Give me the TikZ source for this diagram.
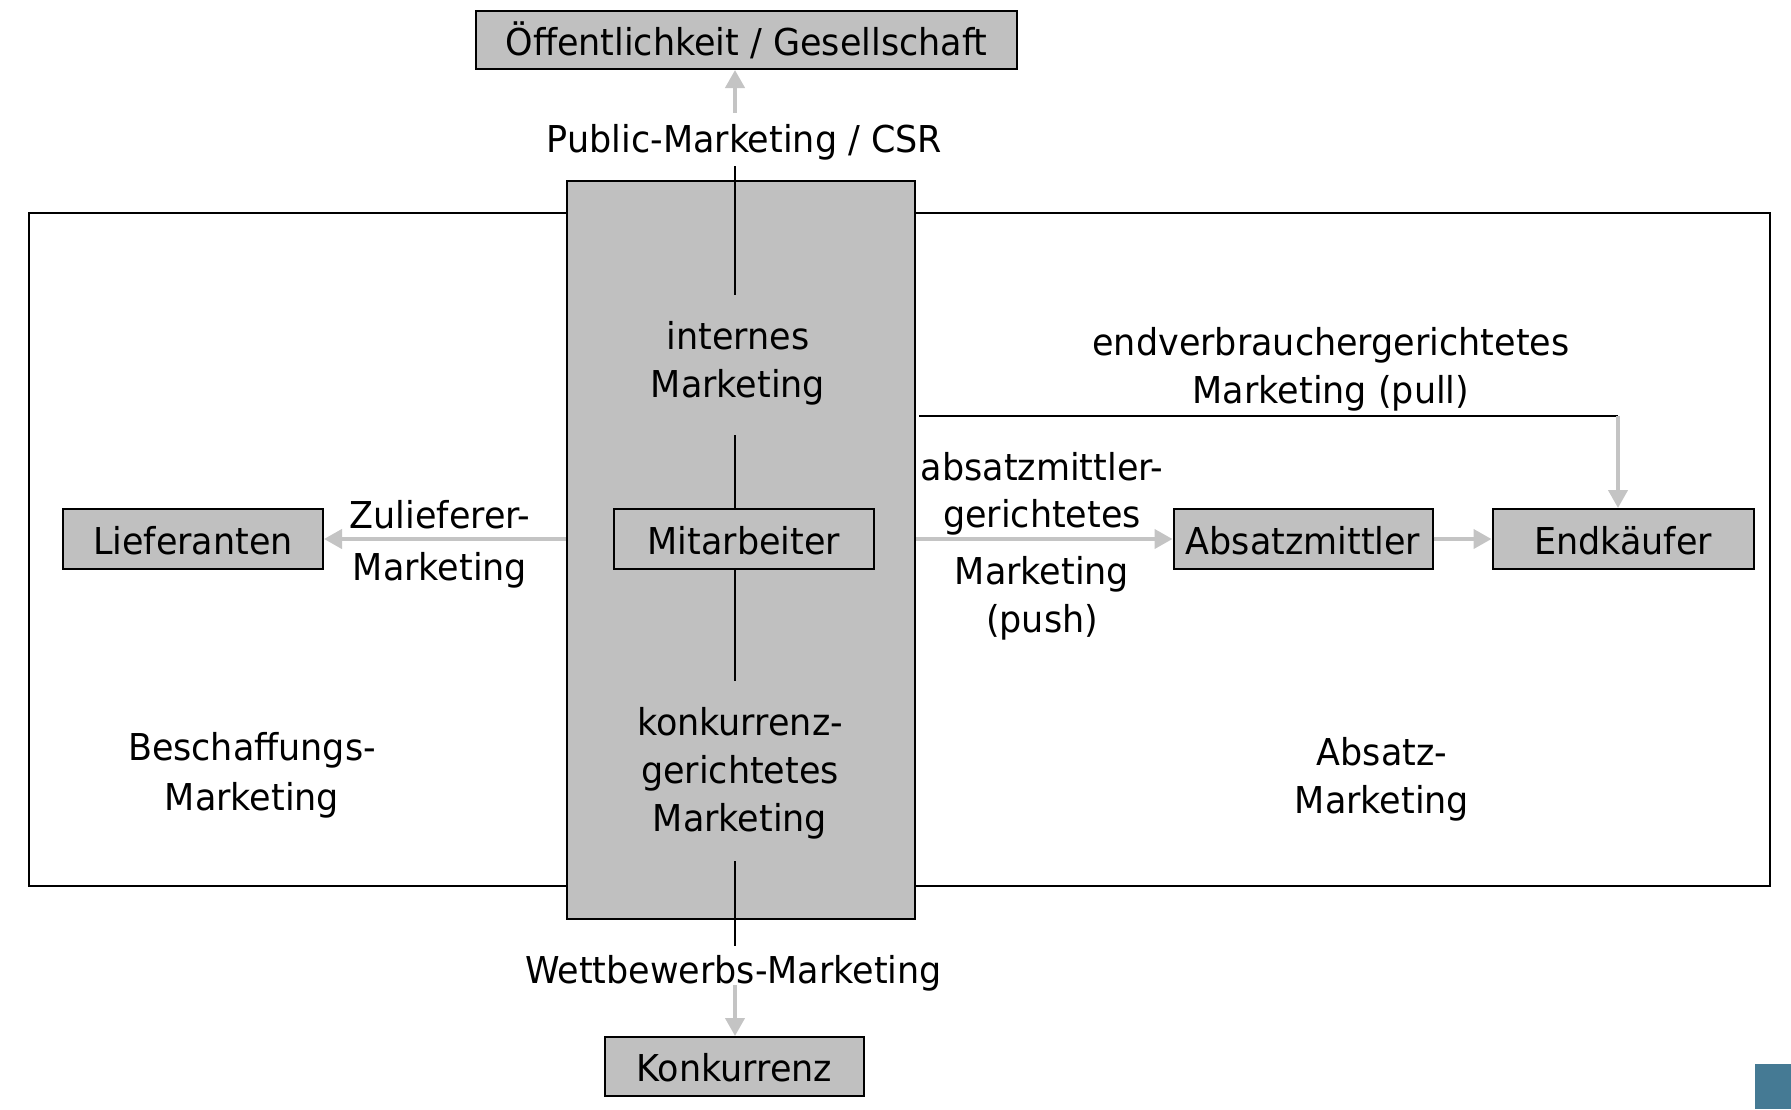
\documentclass[tikz,border=0pt]{standalone}
\usepackage{fontspec}
\setmainfont{DejaVu Sans}[FakeStretch=0.945]
\usetikzlibrary{arrows.meta,calc}
\definecolor{boxgray}{RGB}{192,192,192}
\definecolor{arrowgray}{RGB}{196,196,196}
\definecolor{teal}{RGB}{69,122,148}
\begin{document}
\begin{tikzpicture}[x=1pt,y=-1pt,
  every node/.style={font=\fontsize{37}{48}\selectfont},
  boxnode/.style={draw=black,line width=2pt,fill=boxgray,inner sep=0pt,
     minimum height=60pt,text height=36pt,text depth=6pt},
  lbl/.style={anchor=base,align=center,inner sep=0pt},
  blackline/.style={draw=black,line width=2pt},
  grayarrow/.style={draw=arrowgray,line width=4pt,
     -{Triangle[length=18pt,width=19pt,fill=arrowgray]}}]
\useasboundingbox (0,0) rectangle (1791,1109);
\fill[white] (0,0) rectangle (1791,1109);

% outer frame and central column
\node[draw=black,line width=2pt,minimum width=1741.5pt,minimum height=672.5pt,inner sep=0pt] (frame) at (899.25,549.25) {};
\node[boxnode,minimum width=348.5pt,minimum height=738pt] (core) at (740.75,550) {};

% boxes
\node[boxnode,minimum width=541pt,minimum height=58pt] (oeff) at (746.5,40) {Öffentlichkeit / Gesellschaft};
\node[boxnode,minimum width=260pt] (lief) at (193,539) {Lieferanten};
\node[boxnode,minimum width=260pt] (mitarb) at (744,539) {Mitarbeiter};
\node[boxnode,minimum width=259pt] (absm) at (1303,539) {Absatzmittler};
\node[boxnode,minimum width=261pt] (endk) at (1623,539) {Endkäufer};
\node[boxnode,minimum width=259pt,minimum height=59pt] (konk) at (734.5,1066.5) {Konkurrenz};

% labels (anchor = baseline of the last line)
\node[lbl] (pub) at (744.5,152) {Public-Marketing / CSR};
\node[lbl] (intern) at (738,397) {internes\\Marketing};
\node[lbl] (konkm) at (740,831) {konkurrenz-\\gerichtetes\\Marketing};
\node[lbl] (wett) at (733.5,983) {Wettbewerbs-Marketing};
\node[lbl] (zul) at (440,580) {Zulieferer-\\[4pt]Marketing};
\node[lbl] (push) at (1042,632) {absatzmittler-\\[-1pt]gerichtetes\\[9pt]Marketing\\(push)};
\node[lbl] (endv) at (1331,403) {endverbrauchergerichtetes\\Marketing (pull)};
\node[lbl] (besch) at (252,810) {Beschaffungs-\\[2pt]Marketing};
\node[lbl] (absatz) at (1382,813) {Absatz-\\Marketing};

% coordinates for the broken central line
\coordinate (c1) at (735,166);
\coordinate (c2) at (735,295);
\coordinate (c3) at (735,435);
\coordinate (c4) at (735,681);
\coordinate (c5) at (735,861);
\coordinate (c6) at (735,946);
\coordinate (up) at (735,113);
\coordinate (down) at (735,985);
\coordinate (pullstart) at (919,416);
\coordinate (pullcorner) at (1618,416);

\draw[blackline] (c1) -- (c2);
\draw[blackline] (c3) -- (c3 |- mitarb.north);
\draw[blackline] (c3 |- mitarb.south) -- (c4);
\draw[blackline] (c5) -- (c6);
\draw[blackline] (pullstart) -- (pullcorner);

% gray arrows
\draw[grayarrow] (up) -- (up |- oeff.south);
\draw[grayarrow] (down) -- (down |- konk.north);
\draw[grayarrow] (core.west |- lief.east) -- (lief.east);
\draw[grayarrow] (core.east |- absm.west) -- (absm.west);
\draw[grayarrow] (absm.east) -- (endk.west);
\draw[grayarrow] (pullcorner) -- (pullcorner |- endk.north);

% corner decoration
\fill[teal] (1755,1064) rectangle (1791,1109);
\end{tikzpicture}
\end{document}
